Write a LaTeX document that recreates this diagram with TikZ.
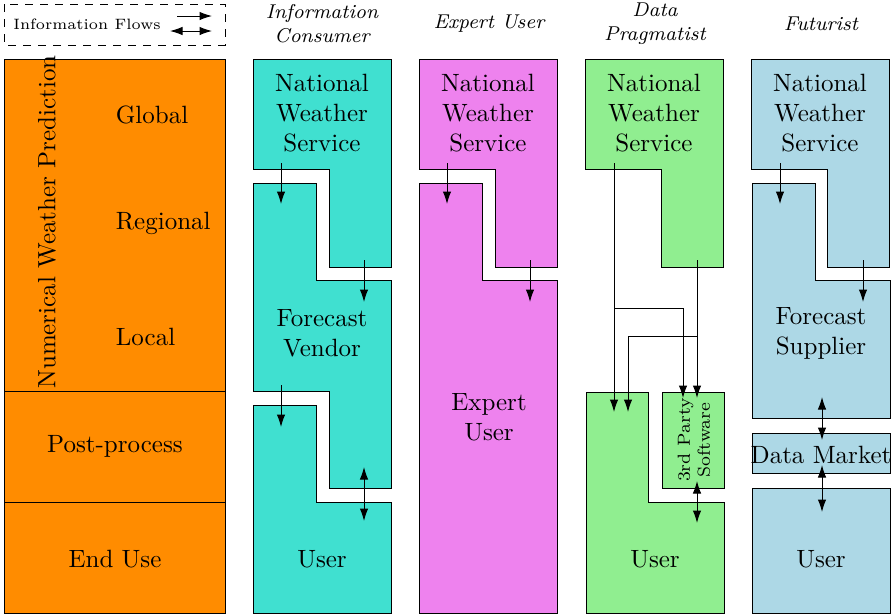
\documentclass[tikz,border=0pt]{standalone}
\usepackage{tikz}
\usetikzlibrary{arrows.meta}
\definecolor{OrangeNWP}{RGB}{255,140,0}
\definecolor{TurqConsumer}{RGB}{64,224,208}
\definecolor{VioletExpert}{RGB}{238,130,238}
\definecolor{GreenPragmatist}{RGB}{144,238,144}
\definecolor{BlueFuturist}{RGB}{173,216,230}

\begin{document}
\begin{tikzpicture}[>={Latex[length=5pt,width=3.4pt]},x=0.4pt,y=-0.4pt,
  heading/.style={font=\footnotesize\itshape,align=center},
  label/.style={align=center}]
  \useasboundingbox (0,0) rectangle (892,614);
  % legend
  \draw[dashed] (4,4) rectangle (225,45);
  \node (legend) at (87,24) {\fontsize{6}{7}\selectfont Information Flows};
  \draw[->] (177,16)--(212,16);
  \draw[<->] (170,31)--(212,31);
  % forecast chain
  \draw[fill=OrangeNWP] (4,59) rectangle (225,391);
  \draw[fill=OrangeNWP] (4,391) rectangle (225,502);
  \draw[fill=OrangeNWP] (4,502) rectangle (225,613);
  \node[rotate=90] (nwp) at (47,222) {Numerical Weather Prediction};
  \node[anchor=west] (global) at (107,115) {Global};
  \node[anchor=west] (regional) at (107,223) {Regional};
  \node[anchor=west] (local) at (107,337) {Local};
  \node (post) at (115,446) {Post-process};
  \node (enduse) at (115,559) {End Use};
  % column headings
  \node[heading] (hdconsumer) at (322,24) {Information\\Consumer};
  \node[heading] (hdexpert) at (489,24) {Expert User};
  \node[heading] (hdpragmatist) at (655,24) {Data\\Pragmatist};
  \node[heading] (hdfuturist) at (821,24) {Futurist};
  % national weather service, all columns
  \foreach \c/\col in {0/TurqConsumer,1/VioletExpert,2/GreenPragmatist,3/BlueFuturist}{
    \draw[fill=\col,shift={(166*\c,0)}] (253,59)--(391,59)--(391,267)--(329,267)--(329,169)--(253,169)--cycle;
    \node[label,shift={(166*\c,0)}] (nws\c) at (322,113) {National\\Weather\\Service};
  }
  % information consumer
  \draw[fill=TurqConsumer] (253,183)--(316,183)--(316,280)--(391,280)--(391,488)--(329,488)--(329,391)--(253,391)--cycle;
  \draw[fill=TurqConsumer] (253,405)--(316,405)--(316,502)--(391,502)--(391,613)--(253,613)--cycle;
  \node[label] (vendor) at (322,333) {Forecast\\Vendor};
  \node (user0) at (322,559) {User};
  \draw[->] (281,163)--(281,204);
  \draw[->] (364,260)--(364,302);
  \draw[->] (281,385)--(281,427);
  \draw[<->] (364,467)--(364,521);
  % expert user
  \draw[fill=VioletExpert] (419,183)--(482,183)--(482,280)--(557,280)--(557,613)--(419,613)--cycle;
  \node[label] (expert) at (489,417) {Expert\\User};
  \draw[->] (447,163)--(447,204);
  \draw[->] (530,260)--(530,302);
  % data pragmatist
  \draw[fill=GreenPragmatist] (586,392)--(648,392)--(648,502)--(724,502)--(724,613)--(586,613)--cycle;
  \draw[fill=GreenPragmatist] (662,392) rectangle (724,488);
  \node[label,rotate=90,font=\scriptsize] (thirdparty) at (694,440) {3rd Party\\Software};
  \node (user2) at (655,559) {User};
  \draw[->] (614,163)--(614,412);
  \draw[->] (614,308)-|(683,398);
  \draw[->] (697,260)--(697,398);
  \draw[->] (697,336)-|(628,412);
  \draw[<->] (697,481)--(697,523);
  % futurist
  \draw[fill=BlueFuturist] (752,183)--(815,183)--(815,280)--(890,280)--(890,418)--(752,418)--cycle;
  \draw[fill=BlueFuturist] (752,433) rectangle (890,473);
  \draw[fill=BlueFuturist] (752,488) rectangle (890,613);
  \node[label] (supplier) at (821,333) {Forecast\\Supplier};
  \node (market) at (821,455) {Data Market};
  \node (user3) at (821,559) {User};
  \draw[->] (780,163)--(780,204);
  \draw[->] (863,260)--(863,302);
  \draw[<->] (822,397)--(822,440);
  \draw[<->] (822,465)--(822,512);
\end{tikzpicture}
\end{document}
